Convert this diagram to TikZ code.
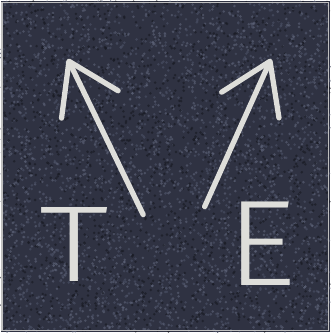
\documentclass[tikz,border=0pt]{standalone}
\usepackage{fontspec}
\usetikzlibrary{arrows.meta}
\newfontfamily\chalkfont{Fira Sans}[UprightFont={* Light}]
\definecolor{cboard}{HTML}{2F3242}
\definecolor{clight}{HTML}{5E6479}
\definecolor{cdark}{HTML}{1A1C25}
\definecolor{cmid}{HTML}{454A5E}
\definecolor{cchalk}{HTML}{DEDEDA}
\tikzset{
  every picture/.style={x=0.03cm, y=-0.03cm},
  speck0/.style={fill=clight, opacity=0.6},
  speck1/.style={fill=cdark, opacity=0.7},
  speck2/.style={fill=cmid, opacity=0.8},
  chalk/.style={draw=cchalk, line width=0.16cm, line cap=round, line join=round,
    -{Straight Barb[length=1.45cm, width=1.9cm, round]}},
  letter/.style={text=cchalk, inner sep=0pt, font=\chalkfont\fontsize{#1}{#1}\selectfont},
}
\begin{document}
\begin{tikzpicture}
  % board with speckled texture
  \fill[cboard] (0,0) rectangle (331,333);
  \pgfmathsetseed{42}
  \foreach \k in {1,...,5200}{
    \pgfmathsetmacro{\px}{331*rnd}
    \pgfmathsetmacro{\py}{333*rnd}
    \pgfmathsetmacro{\pc}{int(3*rnd)}
    \fill[speck\pc] (\px,\py) circle (1.4);
  }
  \draw[gray!50, line width=0.05cm] (1,1) rectangle (330,332);
  \useasboundingbox (0,0) rectangle (331,333);
  % the two letters
  \node[letter=93, anchor=base] (t) at (74,282) {\scalebox{1.3}[1]{T}};
  \node[letter=105, anchor=base west] (e) at (227,287) {\scalebox{1.12}[1]{E}};
  % arrows from the letters
  \coordinate (tfoot) at (143,215);
  \coordinate (ttip)  at (67,58);
  \coordinate (efoot) at (205,207);
  \coordinate (etip)  at (272,58);
  \draw[chalk] (tfoot) -- (ttip);
  \draw[chalk] (efoot) -- (etip);
\end{tikzpicture}
\end{document}
